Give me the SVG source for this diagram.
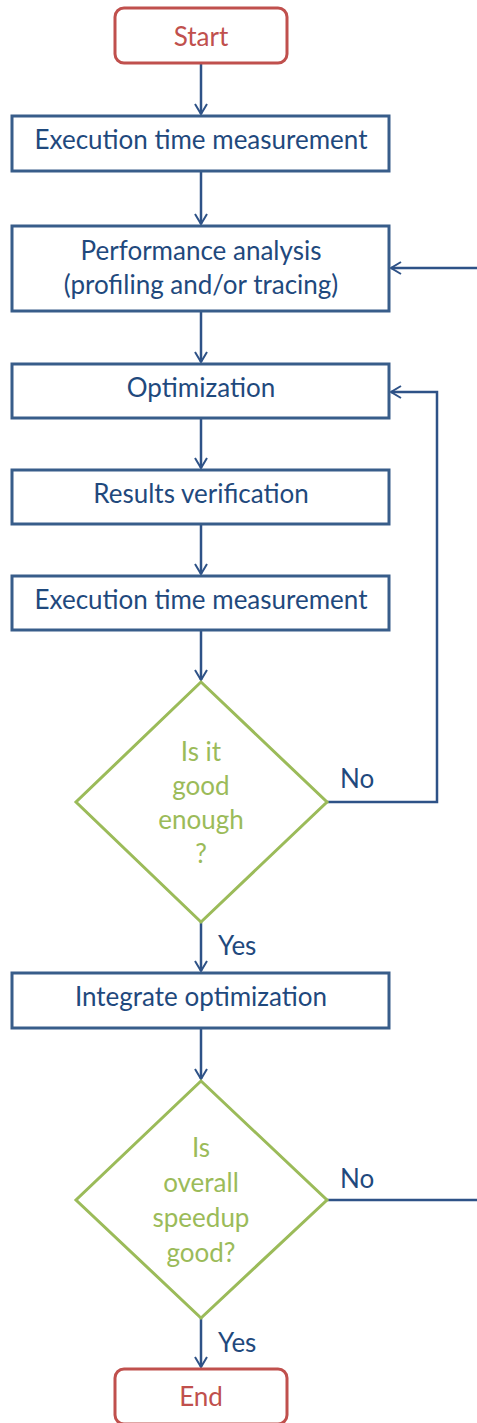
<svg xmlns="http://www.w3.org/2000/svg" width="477" height="1423" viewBox="0 0 477 1423">
<defs>
<marker id="arr" markerWidth="14" markerHeight="14" refX="12" refY="7" orient="auto" markerUnits="userSpaceOnUse">
<path d="M2,1 L12,7 L2,13" fill="none" stroke="#2E5287" stroke-width="2"/>
</marker>
<style>
.box{fill:#fff;stroke:#385D8A;stroke-width:3}
.term{fill:#fff;stroke:#C0504D;stroke-width:3}
.dia{fill:#fff;stroke:#9BBB59;stroke-width:3}
.t{font-family:Lato,"Liberation Sans",sans-serif;font-size:26px;fill:#1F497D;text-anchor:middle}
.tr{font-family:Lato,"Liberation Sans",sans-serif;font-size:26px;fill:#C0504D;text-anchor:middle}
.tg{font-family:Lato,"Liberation Sans",sans-serif;font-size:26px;fill:#9BBB59;text-anchor:middle}
.lb{font-family:Lato,"Liberation Sans",sans-serif;font-size:26px;fill:#1F497D}
.c{fill:none;stroke:#2E5287;stroke-width:2.5}
</style>
</defs>
<rect width="477" height="1423" fill="#fff"/>
<g id="connectors">
<path class="c" d="M201,63 V114" marker-end="url(#arr)"/>
<path class="c" d="M201,171 V224" marker-end="url(#arr)"/>
<path class="c" d="M201,311 V362" marker-end="url(#arr)"/>
<path class="c" d="M201,418 V468" marker-end="url(#arr)"/>
<path class="c" d="M201,524 V574" marker-end="url(#arr)"/>
<path class="c" d="M201,630 V680" marker-end="url(#arr)"/>
<path class="c" d="M327,802 H437 V392 H391" marker-end="url(#arr)"/>
<path class="c" d="M201,922 V971" marker-end="url(#arr)"/>
<path class="c" d="M201,1028 V1079" marker-end="url(#arr)"/>
<path class="c" d="M327,1200 H477"/>
<path class="c" d="M477,268 H391" marker-end="url(#arr)"/>
<path class="c" d="M201,1318 V1367" marker-end="url(#arr)"/>
<text class="lb" x="340" y="788">No</text>
<text class="lb" x="340" y="1188">No</text>
<text class="lb" x="218" y="955">Yes</text>
<text class="lb" x="218" y="1352">Yes</text>
</g>
<g id="start">
<rect class="term" x="115" y="8" width="172" height="55" rx="9"/>
<text class="tr" x="201" y="46">Start</text>
</g>
<g id="measure1">
<rect class="box" x="12" y="116" width="377" height="55"/>
<text class="t" x="201" y="149">Execution time measurement</text>
</g>
<g id="analysis">
<rect class="box" x="12" y="226" width="377" height="85"/>
<text class="t" x="201" y="260">Performance analysis</text>
<text class="t" x="201" y="294">(profiling and/or tracing)</text>
</g>
<g id="optimization">
<rect class="box" x="12" y="364" width="377" height="54"/>
<text class="t" x="201" y="397">Optimization</text>
</g>
<g id="verification">
<rect class="box" x="12" y="470" width="377" height="54"/>
<text class="t" x="201" y="503">Results verification</text>
</g>
<g id="measure2">
<rect class="box" x="12" y="576" width="377" height="54"/>
<text class="t" x="201" y="609">Execution time measurement</text>
</g>
<g id="decision1">
<polygon class="dia" points="201,682 327,802 201,922 76,802"/>
<text class="tg" x="201" y="761">Is it</text>
<text class="tg" x="201" y="795">good</text>
<text class="tg" x="201" y="829">enough</text>
<text class="tg" x="201" y="863">?</text>
</g>
<g id="integrate">
<rect class="box" x="12" y="973" width="377" height="55"/>
<text class="t" x="201" y="1006">Integrate optimization</text>
</g>
<g id="decision2">
<polygon class="dia" points="201,1081 327,1200 201,1318 76,1200"/>
<text class="tg" x="201" y="1157">Is</text>
<text class="tg" x="201" y="1192">overall</text>
<text class="tg" x="201" y="1227">speedup</text>
<text class="tg" x="201" y="1262">good?</text>
</g>
<g id="end">
<rect class="term" x="115" y="1369" width="172" height="55" rx="9"/>
<text class="tr" x="201" y="1406">End</text>
</g>
</svg>
